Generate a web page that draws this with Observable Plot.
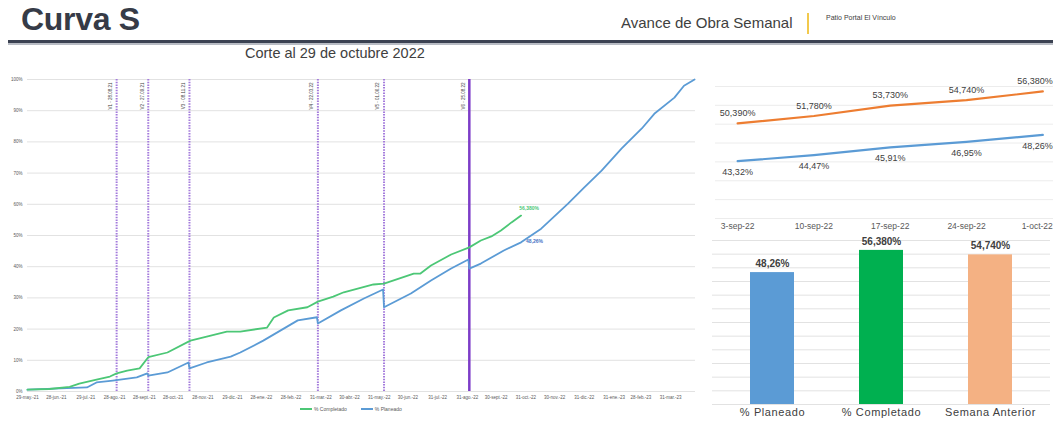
<!DOCTYPE html>
<html><head><meta charset="utf-8">
<script src="https://cdn.jsdelivr.net/npm/d3@7"></script>
<script src="https://cdn.jsdelivr.net/npm/@observablehq/plot@0.6"></script>
<style>
body{margin:0;background:#fff;font-family:"Liberation Sans",Arial,sans-serif;width:1053px;height:422px;overflow:hidden;position:relative}
.abs{position:absolute;white-space:nowrap}
svg{overflow:visible}
</style></head><body>
<div class="abs" style="left:21px;top:1px;font-size:32px;font-weight:bold;color:#363b47;letter-spacing:-0.3px">Curva S</div>
<div class="abs" style="left:621px;top:14px;font-size:15px;color:#404040">Avance de Obra Semanal</div>
<div class="abs" style="left:807px;top:13px;width:2px;height:21px;background:#f2c94c"></div>
<div class="abs" style="left:826px;top:14px;font-size:7px;color:#404040">Patio Portal El Vínculo</div>
<div class="abs" style="left:8px;top:40px;width:1045px;height:3px;background:#3b4252"></div>
<div class="abs" style="left:8px;top:43px;width:1045px;height:2px;background:#b8bcc4"></div>
<div class="abs" style="left:245px;top:45px;font-size:14.5px;color:#404040">Corte al 29 de octubre 2022</div>
<div id="main" class="abs" style="left:0;top:70px"></div>
<div id="trend" class="abs" style="left:700px;top:75px"></div>
<div id="bars" class="abs" style="left:700px;top:230px"></div>
<div class="abs" style="left:300px;top:406px;font-size:5px;color:#595959;display:flex;align-items:center">
  <span style="display:inline-block;width:12px;height:1.5px;background:#4cc776;margin-right:2px"></span>% Completado
  <span style="display:inline-block;width:12px;height:1.5px;background:#5b9bd5;margin:0 2px 0 14px"></span>% Planeado
</div>
<script>
// ---------- Curva S (main) ----------
const completedDates = ["2021-05-29","2021-06-21","2021-07-12","2021-07-22","2021-08-09","2021-08-23","2021-08-30","2021-09-10","2021-09-23","2021-10-02","2021-10-22","2021-11-15","2021-12-02","2021-12-23","2022-01-06","2022-02-03","2022-02-10","2022-02-25","2022-03-17","2022-03-28","2022-04-13","2022-04-24","2022-05-25","2022-06-05","2022-07-06","2022-07-13","2022-07-24","2022-08-14","2022-09-02","2022-09-14","2022-09-25","2022-10-05","2022-10-16","2022-10-26"];
const completedValues = [0.6,0.8,1.5,2.5,3.8,4.8,5.8,6.7,7.4,11.0,12.5,16.3,17.6,19.2,19.2,20.5,23.7,26.0,27.0,28.8,30.4,31.8,34.3,34.6,37.8,37.8,40.4,43.9,46.2,48.4,49.7,51.6,54.2,56.38];
const plannedDates = ["2021-05-29","2021-07-30","2021-08-09","2021-08-26","2021-09-20","2021-10-01","2021-10-02","2021-10-22","2021-11-13","2021-11-14","2021-12-02","2021-12-27","2022-01-06","2022-01-30","2022-03-07","2022-03-27","2022-03-28","2022-04-21","2022-05-15","2022-06-04","2022-06-05","2022-07-03","2022-07-24","2022-08-14","2022-09-01","2022-09-02","2022-09-14","2022-10-08","2022-10-26","2022-11-16","2022-12-14","2022-12-31","2023-01-18","2023-02-08","2023-03-01","2023-03-14","2023-04-04","2023-04-14","2023-04-25"];
const plannedValues = [0.6,1.3,2.9,3.5,4.5,5.8,5.1,6.1,9.3,7.4,9.3,11.2,12.5,16.3,22.8,23.8,21.8,26.0,29.8,32.7,27.0,31.4,35.6,39.4,42.3,39.4,41.0,45.2,47.8,52.2,60.2,65.4,70.8,77.9,84.3,89.0,94.2,98.0,100];
const versionDates = ["2021-08-30","2021-10-02","2021-11-14","2022-03-28","2022-06-05","2022-09-02"];
const versionLabels = ["V1 - 28.08.21","V2 - 27.09.21","V3 - 08.11.21","V4 - 22.03.22","V5 - 01.06.22","V6 - 25.08.22"];
const xTickDates = ["2021-05-29","2021-06-28","2021-07-29","2021-08-28","2021-09-28","2021-10-28","2021-11-28","2021-12-29","2022-01-28","2022-02-28","2022-03-31","2022-04-30","2022-05-31","2022-06-30","2022-07-31","2022-08-31","2022-09-30","2022-10-31","2022-11-30","2022-12-31","2023-01-31","2023-02-28","2023-03-31"];
const monthNames = ["ene.","feb.","mar.","abr.","may.","jun.","jul.","ago.","sept.","oct.","nov.","dic."];
const yTicks = [0,0.1,0.2,0.3,0.4,0.5,0.6,0.7,0.8,0.9,1];

// ---------- Weekly trend ----------
const weekLabels = ["3-sep-22","10-sep-22","17-sep-22","24-sep-22","1-oct-22"];
const weekCompleted = [50.39,51.78,53.73,54.74,56.38];
const weekPlanned = [43.32,44.47,45.91,46.95,48.26];

// ---------- Bars ----------
const barCategories = ["% Planeado","% Completado","Semana Anterior"];
const barValues = [48.26,56.38,54.74];
const barLabels = ["48,26%","56,380%","54,740%"];
const barColors = ["#5b9bd5","#00b050","#f4b183"];

const P = s => new Date(s + "T00:00:00Z");
const completed = completedDates.map((d,i)=>({date:P(d), v:completedValues[i]/100}));
const planned = plannedDates.map((d,i)=>({date:P(d), v:plannedValues[i]/100}));
const versions = versionDates.map((d,i)=>({date:P(d), label:versionLabels[i]}));
const esFmt = d => `${String(d.getUTCDate()).padStart(2,"0")}-${monthNames[d.getUTCMonth()]}-${String(d.getUTCFullYear()).slice(2)}`;
const pctComma = (v,dec) => v.toFixed(dec).replace(".",",") + "%";

const GREEN = "#4cc776", BLUE = "#5b9bd5";
const main = Plot.plot({
  width: 700, height: 340,
  marginLeft: 27, marginRight: 5, marginTop: 9, marginBottom: 19,
  style: {fontFamily: "Liberation Sans, Arial, sans-serif", color: "#595959", background: "transparent"},
  x: {type: "utc", domain: [P("2021-05-29"), P("2023-04-26")], ticks: xTickDates.map(P), tickFormat: esFmt, tickSize: 0, tickPadding: 4, label: null},
  y: {domain: [0, 1], ticks: yTicks, tickFormat: d3.format(".0%"), tickSize: 0, tickPadding: 5, label: null},
  marks: [
    Plot.ruleY(yTicks, {stroke: "#e2e2e2", strokeWidth: 1}),
    Plot.ruleX(versions.slice(0,5), {x: "date", stroke: "#a47bdc", strokeWidth: 2, strokeDasharray: "1.5,1.2"}),
    Plot.ruleX(versions.slice(5), {x: "date", stroke: "#7d3cc8", strokeWidth: 2.5}),
    Plot.text(versions, {x: "date", y: () => 1, text: "label", rotate: -90, textAnchor: "end", dx: -6, dy: 3, fontSize: 4.5, fill: "#404040"}),
    Plot.line(planned, {x: "date", y: "v", stroke: BLUE, strokeWidth: 1.8}),
    Plot.line(completed, {x: "date", y: "v", stroke: GREEN, strokeWidth: 1.8}),
    Plot.text(completed.slice(-1), {x: "date", y: "v", text: d => pctComma(d.v*100,3), dx: 8, dy: -7, fontSize: 5, fontWeight: "bold", fill: GREEN}),
    Plot.text([planned[28]], {x: "date", y: "v", text: d => pctComma(d.v*100 + 0.46,2), dx: 5, dy: -1, textAnchor: "start", fontSize: 5, fontWeight: "bold", fill: "#4472c4"})
  ]
});
main.querySelectorAll("g[aria-label='x-axis tick label'], g[aria-label='y-axis tick label']").forEach(g => g.setAttribute("font-size", "4.5"));
document.getElementById("main").appendChild(main);

// trend chart
const wk = weekLabels.map((l,i)=>({i, label:l, c:weekCompleted[i], p:weekPlanned[i]}));
const gridTrend = [32.6,36.13,39.66,43.19,46.72,50.25,53.78,57.3];
const trend = Plot.plot({
  width: 353, height: 160,
  marginLeft: 15, marginRight: 0, marginTop: 11, marginBottom: 17,
  style: {fontFamily: "Liberation Sans, Arial, sans-serif", color: "#595959", background: "transparent", fontSize: "8.5px"},
  x: {domain: [-0.29, 4.14], ticks: [0,1,2,3,4], tickFormat: i => weekLabels[i], tickSize: 0, tickPadding: 4, label: null},
  y: {domain: [32.6, 57.3], axis: null},
  marks: [
    Plot.ruleY(gridTrend, {stroke: "#ececec"}),
    Plot.line(wk, {x: "i", y: "c", stroke: "#ed7d31", strokeWidth: 2.2}),
    Plot.line(wk, {x: "i", y: "p", stroke: "#5b9bd5", strokeWidth: 2.2}),
    Plot.text(wk.slice(0,4), {x: "i", y: "c", text: d => pctComma(d.c,3), dy: -10, fontSize: 9, fill: "#404040"}),
    Plot.text(wk.slice(0,4), {x: "i", y: "p", text: d => pctComma(d.p,2), dy: 11, fontSize: 9, fill: "#404040"}),
    Plot.text(wk.slice(4), {x: "i", y: "c", text: d => pctComma(d.c,3), dy: -10, dx: 10, textAnchor: "end", fontSize: 9, fill: "#404040"}),
    Plot.text(wk.slice(4), {x: "i", y: "p", text: d => pctComma(d.p,2), dy: 11, dx: 10, textAnchor: "end", fontSize: 9, fill: "#404040"})
  ]
});
{
  const ticks = trend.querySelectorAll("g[aria-label='x-axis tick label'] text");
  const last = ticks[ticks.length - 1];
  if (last) { last.setAttribute("text-anchor", "end"); last.setAttribute("dx", "10"); }
}
document.getElementById("trend").appendChild(trend);

// bars
const bd = barCategories.map((c,i)=>({c, v:barValues[i], label:barLabels[i], color:barColors[i]}));
const bars = Plot.plot({
  width: 353, height: 192,
  marginLeft: 12, marginRight: 3, marginTop: 10, marginBottom: 18,
  style: {fontFamily: "Liberation Sans, Arial, sans-serif", color: "#404040", background: "transparent", fontSize: "11px"},
  x: {domain: barCategories, paddingInner: 0.595, paddingOuter: 0.334, tickSize: 0, tickPadding: 4, label: null},
  y: {domain: [0, 60], axis: null},
  marks: [
    Plot.ruleY([0,5,10,15,20,25,30,35,40,45,50,55,60], {stroke: "#e2e2e2"}),
    Plot.barY(bd, {x: "c", y: "v", fill: "color"}),
    Plot.text(bd, {x: "c", y: "v", text: "label", dy: -9, fontSize: 10, fontWeight: "bold", fill: "#404040"})
  ]
});
bars.querySelectorAll("g[aria-label='x-axis tick label'] text").forEach(t => t.setAttribute("letter-spacing", "0.6"));
document.getElementById("bars").appendChild(bars);
</script>
</body></html>
